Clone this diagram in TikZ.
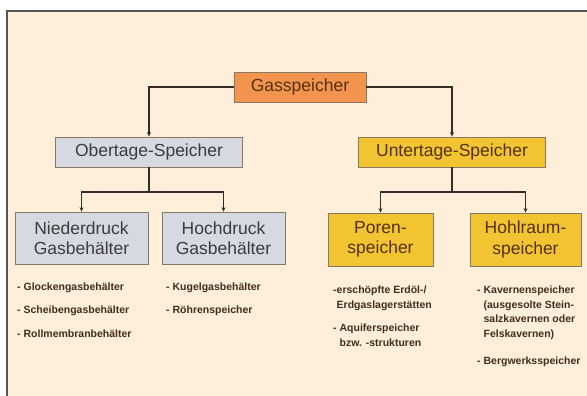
\documentclass[tikz,border=0pt]{standalone}
\usepackage{fontspec}
\setmainfont{Liberation Sans}
\usetikzlibrary{arrows.meta}

\begin{document}
\begin{tikzpicture}[x=1pt,y=-1pt]
% Colors for the boxes and lines
\definecolor{bg}{RGB}{253,239,217}
\definecolor{frameline}{RGB}{85,85,85}
\definecolor{orangebox}{RGB}{242,148,78}
\definecolor{greybox}{RGB}{214,217,226}
\definecolor{goldbox}{RGB}{243,196,50}
\definecolor{boxline}{RGB}{135,120,100}
\definecolor{linkline}{RGB}{50,45,40}
\definecolor{greytext}{RGB}{60,60,60}
\definecolor{browntext}{RGB}{85,50,15}
\definecolor{itemtext}{RGB}{65,45,30}

\tikzset{
  box/.style={draw=boxline, line width=0.8pt, inner sep=0pt, align=center,
    font=\fontsize{17.5}{20.5}\selectfont},
  link/.style={draw=linkline, line width=1.5pt},
  arr/.style={link, -{Stealth[length=4.5pt,width=4pt]}},
  item/.style={anchor=north west, align=left, inner sep=0pt, text=itemtext,
    font=\fontsize{10.5}{14.5}\selectfont\bfseries}
}

% Frame
\useasboundingbox (0,0) rectangle (587,396);
\fill[white] (0,0) rectangle (587,396);
\fill[bg] (7,11) rectangle (587,396);
\draw[frameline, line width=2pt] (7,396) -- (7,11) -- (587,11);

% Boxes
\node[box, fill=orangebox, text=browntext, minimum width=132, minimum height=30] (gas) at (300,87) {Gasspeicher};

\node[box, fill=greybox, text=greytext, minimum width=187, minimum height=30] (ober) at (149,152) {Obertage-Speicher};
\node[box, fill=goldbox, text=browntext, minimum width=187, minimum height=30] (unter) at (452,152) {Untertage-Speicher};

\node[box, fill=greybox, text=greytext, minimum width=133, minimum height=52] (nieder) at (81.5,238) {Niederdruck\\Gasbehälter};
\node[box, fill=greybox, text=greytext, minimum width=123, minimum height=52] (hoch) at (223.5,238) {Hochdruck\\Gasbehälter};
\node[box, fill=goldbox, text=browntext, minimum width=105, minimum height=53] (poren) at (380.5,239.5) {Poren-\\speicher};
\node[box, fill=goldbox, text=browntext, minimum width=111, minimum height=53] (hohl) at (525.5,239.5) {Hohlraum-\\speicher};

% Connectors
\draw[arr] (gas.west) -| (ober.north);
\draw[arr] (gas.east) -| (unter.north);

\coordinate (oberfork) at (149,192);
\coordinate (unterfork) at (452,192);
\draw[link] (ober.south) -- (oberfork);
\draw[arr] (oberfork) -| (nieder.north);
\draw[arr] (oberfork) -| (hoch.north);
\draw[link] (unter.south) -- (unterfork);
\draw[arr] (unterfork) -| (poren.north);
\draw[arr] (unterfork) -| (hohl.north);

% Items below the boxes
\node[item] (glocken) at (17,283) {- Glockengasbehälter};
\node[item] (scheiben) at (17,306) {- Scheibengasbehälter};
\node[item] (roll) at (17,330) {- Rollmembranbehälter};

\node[item] (kugel) at (166,283) {- Kugelgasbehälter};
\node[item] (roehren) at (166,306) {- Röhrenspeicher};

\node[item] (erdoel) at (333,286) {-erschöpfte Erdöl-/\\\hphantom{-}Erdgaslagerstätten};
\node[item] (aquifer) at (333,324) {- Aquiferspeicher\\\hphantom{- }bzw. -strukturen};

\node[item] (kavernen) at (477,286) {- Kavernenspeicher\\\hphantom{- }(ausgesolte Stein-\\\hphantom{- }salzkavernen oder\\\hphantom{- }Felskavernen)};
\node[item] (bergwerk) at (477,357) {- Bergwerksspeicher};

\end{tikzpicture}
\end{document}
